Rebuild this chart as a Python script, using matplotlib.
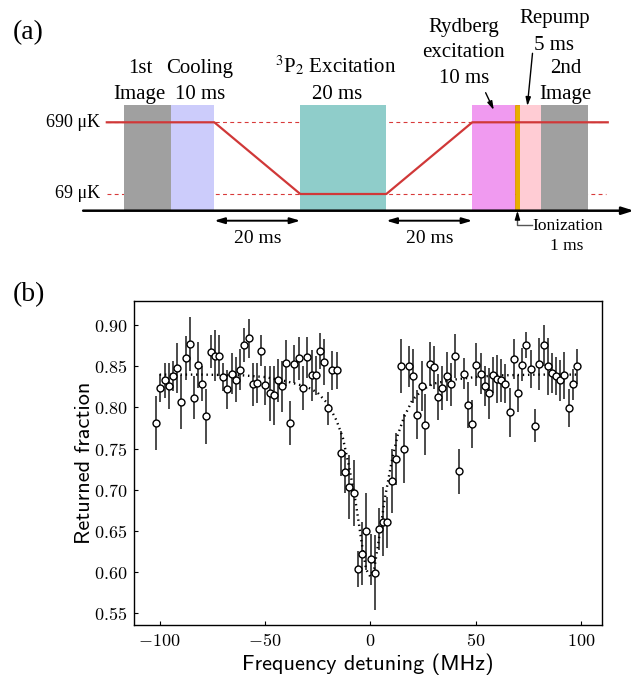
import matplotlib.pyplot as plt
from matplotlib.patches import Rectangle
from matplotlib.ticker import FuncFormatter, MultipleLocator

# ---- (a) experimental sequence, times in ms ----
step_start = [0, 11, 41, 81, 91, 92, 97]
step_length = [11, 10, 20, 10, 1, 5, 11]
step_color = ['#a0a0a0', '#ccccfb', '#8fcdca', '#f09af0', '#e6b000', '#ffccd4', '#a0a0a0']

# trap depth (uK) along the sequence
ramp_t = [-4, 21, 41, 61, 81, 112.5]
ramp_depth = [690, 690, 69, 69, 690, 690]
depth_levels = [690, 69]
level_height = {690: 88.4, 69: 16.7}   # drawing height above the time axis
box_top = 105.7

# ---- (b) loss spectrum ----
detuning = [-101.7, -99.7, -97.6, -95.7, -93.7, -91.8, -89.7, -87.7, -85.6, -83.8,
            -81.7, -79.7, -77.8, -75.7, -73.8, -71.8, -69.7, -67.8, -65.8, -63.7,
            -61.8, -59.8, -57.7, -55.8, -53.8, -51.9, -49.8, -47.8, -45.9, -43.8,
            -41.8, -39.9, -37.9, -36.0, -33.9, -32.0, -30.0, -27.9, -26.0, -24.0,
            -21.9, -19.9, -18.0, -15.9, -13.9, -11.9, -10.0, -7.9, -5.8, -3.8,
            -1.9, 0.2, 2.1, 4.1, 6.2, 8.1, 10.1, 12.2, 14.4, 16.2,
            18.4, 20.3, 22.2, 24.4, 26.2, 28.3, 30.4, 32.3, 34.3, 36.4,
            38.3, 40.3, 42.2, 44.3, 46.4, 48.4, 50.3, 52.4, 54.3, 56.3,
            58.2, 60.3, 62.3, 64.2, 66.3, 68.2, 70.3, 72.3, 74.2, 76.3,
            78.3, 80.2, 82.3, 84.2, 86.2, 88.3, 90.3, 92.2, 94.3, 96.2, 98.3]
returned = [0.781, 0.824, 0.833, 0.826, 0.838, 0.848, 0.807, 0.860, 0.877, 0.812,
            0.852, 0.829, 0.789, 0.868, 0.863, 0.863, 0.837, 0.822, 0.841, 0.834,
            0.846, 0.876, 0.884, 0.828, 0.830, 0.869, 0.827, 0.817, 0.815, 0.833,
            0.826, 0.854, 0.781, 0.853, 0.860, 0.824, 0.861, 0.839, 0.839, 0.869,
            0.855, 0.799, 0.845, 0.845, 0.744, 0.721, 0.703, 0.696, 0.603, 0.622,
            0.649, 0.615, 0.599, 0.652, 0.661, 0.660, 0.710, 0.737, 0.850, 0.750,
            0.850, 0.838, 0.791, 0.826, 0.779, 0.853, 0.849, 0.813, 0.824, 0.838,
            0.828, 0.863, 0.722, 0.841, 0.803, 0.780, 0.852, 0.841, 0.826, 0.817,
            0.839, 0.835, 0.833, 0.829, 0.794, 0.859, 0.817, 0.852, 0.876, 0.847,
            0.778, 0.853, 0.876, 0.850, 0.842, 0.838, 0.833, 0.839, 0.799, 0.828, 0.850]
returned_err = [0.033, 0.017, 0.021, 0.028, 0.018, 0.031, 0.033, 0.027, 0.033, 0.026,
                0.028, 0.021, 0.033, 0.020, 0.031, 0.025, 0.017, 0.024, 0.025, 0.027,
                0.025, 0.021, 0.024, 0.026, 0.024, 0.019, 0.024, 0.034, 0.036, 0.026,
                0.031, 0.028, 0.027, 0.023, 0.026, 0.027, 0.025, 0.031, 0.024, 0.022,
                0.028, 0.020, 0.024, 0.023, 0.027, 0.025, 0.039, 0.040, 0.022, 0.038,
                0.047, 0.031, 0.046, 0.026, 0.042, 0.031, 0.039, 0.032, 0.033, 0.042,
                0.025, 0.033, 0.030, 0.030, 0.037, 0.027, 0.026, 0.028, 0.027, 0.030,
                0.026, 0.027, 0.028, 0.019, 0.028, 0.029, 0.026, 0.025, 0.024, 0.031,
                0.022, 0.029, 0.026, 0.024, 0.030, 0.024, 0.023, 0.020, 0.016, 0.023,
                0.020, 0.032, 0.025, 0.035, 0.024, 0.023, 0.025, 0.029, 0.023, 0.019, 0.021]

# fitted line shape
fit_detuning = [-100, -80, -60, -50, -40, -30, -25, -20, -16, -13, -10, -7, -4, -2, 0,
                2, 4, 7, 10, 13, 16, 20, 25, 30, 40, 50, 60, 80, 99]
fit_returned = [0.840, 0.840, 0.839, 0.837, 0.832, 0.825, 0.818, 0.804, 0.784, 0.763,
                0.727, 0.686, 0.634, 0.603, 0.594, 0.605, 0.638, 0.690, 0.732, 0.766,
                0.788, 0.809, 0.822, 0.829, 0.834, 0.837, 0.839, 0.840, 0.840]

serif = 'Liberation Serif'

fig = plt.figure(figsize=(6.41, 6.75), dpi=100)

# ================= (a) =================
ax = fig.add_axes([0, 0.6, 1, 0.4])
ax.set_xlim(-124 / 4.3, (641 - 124) / 4.3)
ax.set_ylim(-59.3, 210.7)
ax.axis('off')

for s, d, c in zip(step_start, step_length, step_color):
    ec = '#e08a00' if d == 1 else 'none'
    ax.add_patch(Rectangle((s, 0), d, box_top, facecolor=c, edgecolor=ec, lw=0.6, zorder=2))

ax.hlines([level_height[v] for v in depth_levels], -4, 112, colors='#d83a3a',
          linestyles=(0, (3.5, 3)), lw=0.8, zorder=1)
ax.plot(ramp_t, [level_height[v] for v in ramp_depth], color='#d03838', lw=1.6, zorder=3)
for v in depth_levels:
    ax.text(-5.6, level_height[v] - 4.4, f'{v} μK', ha='right', va='baseline',
            family=serif, fontsize=13)

# time axis
ax.annotate('', xy=(118.6, 0), xytext=(-9.5, 0),
            arrowprops=dict(arrowstyle='-|>,head_length=0.7,head_width=0.22', color='k',
                            lw=1.8, shrinkA=0, shrinkB=0), zorder=4)

# 20 ms ramps
for a, b in [(21, 41), (61, 81)]:
    ax.annotate('', xy=(b, -10), xytext=(a, -10),
                arrowprops=dict(arrowstyle='<|-|>,head_length=0.6,head_width=0.18', color='k',
                                lw=1.4, shrinkA=0, shrinkB=0))
    ax.text((a + b) / 2, -32.6, '20 ms', ha='center', va='baseline', family=serif, fontsize=14)

lbl = dict(ha='center', va='baseline', family=serif, fontsize=15)
ax.text(3.7, 138, '1st', **lbl)
ax.text(3.5, 111.7, 'Image', **lbl)
ax.text(17.7, 138, 'Cooling', **lbl)
ax.text(17.7, 111.7, '10 ms', **lbl)
ax.text(49.2, 138, r'$^{3}$P$_{2}$ Excitation', math_fontfamily='stix', **lbl)
ax.text(49.5, 111.7, '20 ms', **lbl)
ax.text(78.9, 179, 'Rydberg', **lbl)
ax.text(78.9, 154, 'excitation', **lbl)
ax.text(79.0, 127.4, '10 ms', **lbl)
ax.text(100.1, 187.4, 'Repump', **lbl)
ax.text(100.1, 160.7, '5 ms', **lbl)
ax.text(102.7, 138, '2nd', **lbl)
ax.text(102.6, 111.7, 'Image', **lbl)

ax.annotate('', xy=(86.0, 100.7), xytext=(84.1, 118),
            arrowprops=dict(arrowstyle='-|>,head_length=0.5,head_width=0.15', color='k',
                            lw=1.0, shrinkA=0, shrinkB=0))
ax.annotate('', xy=(93.8, 104.7), xytext=(95.0, 157.4),
            arrowprops=dict(arrowstyle='-|>,head_length=0.5,head_width=0.15', color='k',
                            lw=1.0, shrinkA=0, shrinkB=0))

# ionization pointer
ax.plot([91.5, 91.5, 94.8], [-4, -14.3, -14.3], color='#555555', lw=1.0)
ax.annotate('', xy=(91.5, 0), xytext=(91.5, -5),
            arrowprops=dict(arrowstyle='-|>,head_length=0.5,head_width=0.15', color='k',
                            lw=1.0, shrinkA=0, shrinkB=0))
ax.text(95.0, -19.3, 'Ionization', ha='left', va='baseline', family=serif, fontsize=12.5)
ax.text(103.0, -39.3, '1 ms', ha='center', va='baseline', family=serif, fontsize=12.5)

fig.text(13 / 641, 1 - 33 / 675, '(a)', ha='left', va='center', family=serif, fontsize=20)
fig.text(13 / 641, 1 - 295 / 675, '(b)', ha='left', va='center', family=serif, fontsize=20)

# ================= (b) =================
bx = fig.add_axes([134 / 641, 1 - 625.3 / 675, (602.3 - 134) / 641, (625.3 - 300.7) / 675])
bx.errorbar(detuning, returned, yerr=returned_err, fmt='none', ecolor='#1a1a1a',
            elinewidth=1.1, capsize=0, zorder=2)
bx.plot(fit_detuning, fit_returned, color='k', lw=1.7, linestyle=(0, (0.6, 1.6)), zorder=3)
bx.plot(detuning, returned, 'o', ms=5.0, mfc='white', mec='k', mew=1.0, zorder=4)

bx.set_xlim(-112.2, 110.2)
bx.set_ylim(0.5347, 0.930)
bx.xaxis.set_major_locator(MultipleLocator(50))
bx.yaxis.set_major_locator(MultipleLocator(0.05))
bx.xaxis.set_major_formatter(FuncFormatter(lambda v, p: f'${v:.0f}$'))
bx.yaxis.set_major_formatter(FuncFormatter(lambda v, p: f'${v:.2f}$'))
bx.tick_params(direction='in', length=3, width=0.8, labelsize=13, pad=5)
for t in bx.get_xticklabels() + bx.get_yticklabels():
    t.set_math_fontfamily('cm')
for sp in bx.spines.values():
    sp.set_linewidth(1.0)
bx.set_xlabel('Frequency detuning (MHz)', family='cmss10', fontsize=16, labelpad=2)
bx.set_ylabel('Returned fraction', family='cmss10', fontsize=16, labelpad=0)

fig.savefig('out.png', dpi=100)
